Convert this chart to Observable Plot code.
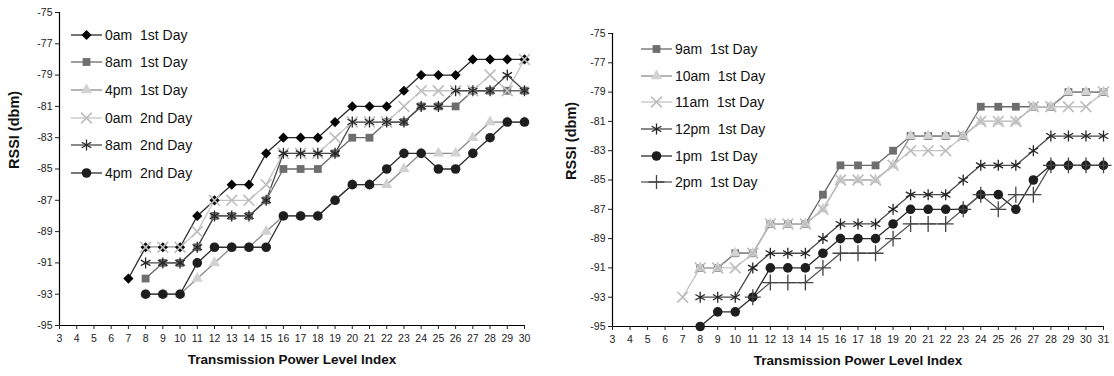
<!DOCTYPE html>
<html><head><meta charset="utf-8">
<script src="https://cdn.jsdelivr.net/npm/d3@7"></script>
<script src="https://cdn.jsdelivr.net/npm/@observablehq/plot@0.6"></script>
<style>
body{margin:0;background:#fff;font-family:"Liberation Sans",Arial,sans-serif;}
#wrap{position:relative;width:1114px;height:376px;overflow:hidden;background:#fff;}
.panel{position:absolute;top:0;}
.legend{position:absolute;font-size:14px;color:#111;font-family:"Liberation Sans",Arial,sans-serif;}
.legend .row{display:flex;align-items:center;white-space:pre;}
.legend svg{display:block;margin-right:3px;}
</style></head><body>
<div id="wrap"></div>
<script>
// ---------- data ----------
const yTicks = [-75,-77,-79,-81,-83,-85,-87,-89,-91,-93,-95];
const xTicksLeft = [3,4,5,6,7,8,9,10,11,12,13,14,15,16,17,18,19,20,21,22,23,24,25,26,27,28,29,30];
const xTicksRight = [3,4,5,6,7,8,9,10,11,12,13,14,15,16,17,18,19,20,21,22,23,24,25,26,27,28,29,30,31];

const idxLeft = [7,8,9,10,11,12,13,14,15,16,17,18,19,20,21,22,23,24,25,26,27,28,29,30];
const am0Day1 = [-92,-90,-90,-90,-88,-87,-86,-86,-84,-83,-83,-83,-82,-81,-81,-81,-80,-79,-79,-79,-78,-78,-78,-78];
const am8Day1 = [null,-92,-91,-91,-90,-88,-88,-88,-87,-85,-85,-85,-84,-83,-83,-82,-82,-81,-81,-81,-80,-80,-80,-80];
const pm4Day1 = [null,-93,-93,-93,-92,-91,-90,-90,-89,-88,-88,-88,-87,-86,-86,-86,-85,-84,-84,-84,-83,-82,-82,-82];
const am0Day2 = [null,-90,-90,-90,-89,-87,-87,-87,-86,-84,-84,-84,-83,-82,-82,-82,-81,-80,-80,-80,-80,-79,-80,-78];
const am8Day2 = [null,-91,-91,-91,-90,-88,-88,-88,-87,-84,-84,-84,-84,-82,-82,-82,-82,-81,-81,-80,-80,-80,-79,-80];
const pm4Day2 = [null,-93,-93,-93,-91,-90,-90,-90,-90,-88,-88,-88,-87,-86,-86,-85,-84,-84,-85,-85,-84,-83,-82,-82];

const idxRight = [7,8,9,10,11,12,13,14,15,16,17,18,19,20,21,22,23,24,25,26,27,28,29,30,31];
const am9 = [null,-91,-91,-90,-90,-88,-88,-88,-86,-84,-84,-84,-83,-82,-82,-82,-82,-80,-80,-80,-80,-80,-79,-79,-79];
const am10 = [null,-91,-91,-90,-90,-88,-88,-88,-87,-85,-85,-85,-84,-82,-82,-82,-82,-81,-81,-81,-80,-80,-79,-79,-79];
const am11 = [-93,-91,-91,-91,-90,-88,-88,-88,-87,-85,-85,-85,-84,-83,-83,-83,-82,-81,-81,-81,-80,-80,-80,-80,-79];
const pm12 = [null,-93,-93,-93,-91,-90,-90,-90,-89,-88,-88,-88,-87,-86,-86,-86,-85,-84,-84,-84,-83,-82,-82,-82,-82];
const pm1 = [null,-95,-94,-94,-93,-91,-91,-91,-90,-89,-89,-89,-88,-87,-87,-87,-87,-86,-86,-87,-85,-84,-84,-84,-84];
const pm2 = [null,null,null,null,-93,-92,-92,-92,-91,-90,-90,-90,-89,-88,-88,-88,-87,-86,-87,-86,-86,-84,-84,-84,-84];

const namesLeft = ["0am  1st Day","8am  1st Day","4pm  1st Day","0am  2nd Day","8am  2nd Day","4pm  2nd Day"];
const namesRight = ["9am  1st Day","10am  1st Day","11am  1st Day","12pm  1st Day","1pm  1st Day","2pm  1st Day"];

// ---------- styles ----------
const stylesLeft = [
  {symbol:"diamond2", r:4.6, fill:"#050505", stroke:"none", line:"#2a2a2a"},
  {symbol:"square", r:4.4, fill:"#6e6e6e", stroke:"none", line:"#6a6a6a"},
  {symbol:"triangle", r:4.2, fill:"#d2d2d2", stroke:"none", line:"#8c8c8c"},
  {symbol:"times", r:5, fill:"none", stroke:"#bdbdbd", line:"#c4c4c4", sw:1.6},
  {symbol:"asterisk", r:5.2, fill:"none", stroke:"#262626", line:"#4a4a4a", sw:1.3},
  {symbol:"circle", r:4.8, fill:"#1e1e1e", stroke:"none", line:"#2e2e2e"}
];
const stylesRight = [
  {symbol:"square", r:4.4, fill:"#6e6e6e", stroke:"none", line:"#6a6a6a"},
  {symbol:"triangle", r:4.2, fill:"#d2d2d2", stroke:"none", line:"#8c8c8c"},
  {symbol:"times", r:5, fill:"none", stroke:"#bdbdbd", line:"#c4c4c4", sw:1.6},
  {symbol:"asterisk", r:5.2, fill:"none", stroke:"#262626", line:"#4a4a4a", sw:1.3},
  {symbol:"circle", r:4.8, fill:"#1e1e1e", stroke:"none", line:"#2e2e2e"},
  {symbol:"plus", r:5.2, fill:"none", stroke:"#444", line:"#5a5a5a", sw:1.3}
];

function rows(xs, ys){ return xs.map((x,i)=>({x, y: ys[i]})).filter(d=>d.y!=null); }

function makePanel({xs, seriesList, styles, xTicks, xDomain, width, ml, mr, mt, mb, ylabDx}) {
  const marks = [
    Plot.ruleX([xDomain[0]], {stroke:"#000", strokeWidth:1.2}),
    Plot.ruleY([-95], {stroke:"#000", strokeWidth:1.2}),
    Plot.axisY({ticks: yTicks, tickSize: 4, tickPadding: 3, fontSize: 10.5, tickFormat: d => String(d), label: null, color:"#222"}),
    Plot.axisX({ticks: xTicks, tickSize: 4, tickPadding: 5, fontSize: 10.5, tickFormat: d => String(d), label: null, color:"#222"}),
    Plot.text(["Transmission Power Level Index"], {frameAnchor:"bottom", dy: 38, fontWeight:"bold", fontSize: 13.5, fill:"#111"}),
    Plot.text(["RSSI (dbm)"], {frameAnchor:"left", dx: ylabDx, rotate:-90, fontWeight:"bold", fontSize: 14.5, fill:"#111"})
  ];
  seriesList.forEach((ys, i) => {
    const s = styles[i];
    const r = rows(xs, ys);
    marks.push(Plot.line(r, {x:"x", y:"y", stroke:s.line, strokeWidth:1.3}));
  });
  seriesList.forEach((ys, i) => {
    const s = styles[i];
    const r = rows(xs, ys);
    marks.push(Plot.dot(r, {x:"x", y:"y", symbol:s.symbol, r:s.r, fill:s.fill, stroke:s.stroke, strokeWidth:s.sw||1}));
  });
  return Plot.plot({
    width, height: 376,
    marginLeft: ml, marginRight: mr, marginTop: mt, marginBottom: mb,
    style: {fontFamily: '"Liberation Sans", Arial, sans-serif', background:"#fff", overflow:"visible"},
    x: {domain: xDomain},
    y: {domain: [-95, -75]},
    marks
  });
}

function makeLegend(names, styles, left, top, rowH) {
  const div = document.createElement("div");
  div.className = "legend";
  div.style.left = left + "px";
  div.style.top = top + "px";
  names.forEach((n, i) => {
    const s = styles[i];
    const row = document.createElement("div");
    row.className = "row";
    row.style.height = rowH + "px";
    const svg = d3.create("svg").attr("width", 31).attr("height", 14);
    svg.append("line").attr("x1",0).attr("x2",31).attr("y1",7).attr("y2",7).attr("stroke", s.line).attr("stroke-width",1.3);
    const symMap = {diamond2:d3.symbolDiamond2, square:d3.symbolSquare, triangle:d3.symbolTriangle, times:d3.symbolTimes, asterisk:d3.symbolAsterisk, circle:d3.symbolCircle, plus:d3.symbolPlus};
    svg.append("path").attr("transform","translate(15.5,7)")
      .attr("d", d3.symbol(symMap[s.symbol], s.r*s.r*Math.PI)())
      .attr("fill", s.fill).attr("stroke", s.stroke).attr("stroke-width", s.sw||1);
    row.appendChild(svg.node());
    const t = document.createElement("span");
    t.textContent = n;
    row.appendChild(t);
    div.appendChild(row);
  });
  return div;
}

const wrap = document.getElementById("wrap");
const left = makePanel({xs: idxLeft, seriesList:[am0Day1, am8Day1, pm4Day1, am0Day2, am8Day2, pm4Day2], styles: stylesLeft,
  xTicks: xTicksLeft, xDomain:[3,30], width:560, ml:59, mr:36, mt:12, mb:51, ylabDx:-45});
const leftDiv = document.createElement("div"); leftDiv.className="panel"; leftDiv.style.left="0px"; leftDiv.appendChild(left);
wrap.appendChild(leftDiv);

const right = makePanel({xs: idxRight, seriesList:[am9, am10, am11, pm12, pm1, pm2], styles: stylesRight,
  xTicks: xTicksRight, xDomain:[3,31], width:554, ml:52, mr:11, mt:33, mb:50, ylabDx:-41});
const rightDiv = document.createElement("div"); rightDiv.className="panel"; rightDiv.style.left="560px"; rightDiv.appendChild(right);
wrap.appendChild(rightDiv);

wrap.appendChild(makeLegend(namesLeft, stylesLeft, 71, 21, 27.6));
wrap.appendChild(makeLegend(namesRight, stylesRight, 641, 36, 26.6));
</script>
</body></html>
